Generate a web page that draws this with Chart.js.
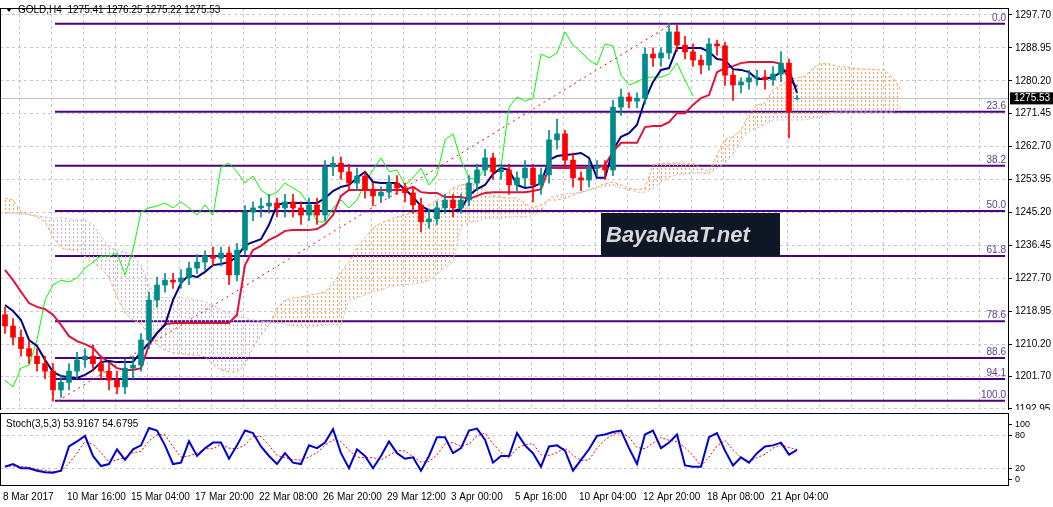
<!DOCTYPE html>
<html>
<head>
<meta charset="utf-8">
<script src="https://cdn.jsdelivr.net/npm/chart.js@4"></script>
<style>
  body { margin: 0; background: #fff; width: 1053px; height: 507px; overflow: hidden; font-family: "Liberation Sans", sans-serif; }
  #main { position: absolute; left: 0; top: 0; width: 1053px; height: 410px; }
  #stoch { position: absolute; left: 0; top: 410px; width: 1053px; height: 97px; }
</style>
</head>
<body>
<div id="main"><canvas id="priceChart"></canvas></div>
<div id="stoch"><canvas id="stochChart"></canvas></div>
<script>
// GOLD H4 candles
const opens = [1218.0,1215.0,1212.0,1209.0,1207.0,1205.0,1203.0,1198.0,1200.0,1203.0,
  1206.0,1207.0,1205.0,1203.0,1200.6,1198.8,1203.8,1204.6,1211.3,1221.9,
  1225.9,1227.2,1226.7,1227.8,1230.4,1232.0,1233.6,1233.0,1234.4,1228.6,
  1235.2,1245.3,1246.4,1246.9,1247.7,1246.4,1248.0,1246.4,1244.5,1247.2,
  1244.5,1257.3,1258.3,1256.0,1253.0,1254.9,1251.2,1249.6,1250.6,1253.0,
  1251.7,1250.4,1247.2,1242.7,1243.5,1246.4,1248.5,1246.4,1248.5,1253.0,
  1256.5,1259.7,1256.0,1256.5,1252.5,1254.4,1257.0,1252.5,1255.2,1264.5,
  1266.1,1259.1,1254.4,1253.8,1257.0,1257.3,1256.5,1273.2,1275.9,1274.8,
  1275.6,1287.3,1286.3,1287.6,1293.2,1289.7,1287.9,1285.7,1284.4,1290.0,
  1289.5,1281.7,1279.1,1279.9,1281.0,1281.2,1280.5,1282.0,1284.9,1275.41];
const highs = [1220,1217,1214,1211,1209,1207,1205,1202,1205,1208,
  1209,1210,1207,1205,1203,1206,1207,1213,1224,1228,
  1229,1229,1230,1232,1234,1235,1236,1236,1236,1237,
  1247,1248,1249,1250,1249,1250,1250,1248,1249,1249,
  1259,1260,1260,1258,1257,1256,1253,1252,1255,1255,
  1253,1252,1249,1246,1248,1250,1250,1250,1255,1258,
  1262,1261,1258,1258,1256,1259,1258,1257,1267,1270,
  1267,1261,1256,1259,1259,1259,1275,1278,1277,1277,
  1289,1289,1289,1295.5,1295,1292,1290,1287,1291.5,1291,
  1290.5,1283,1281,1283,1283,1283,1284,1288,1286,1276.25];
const lows = [1213,1210,1207,1205,1203,1201,1195,1196,1198,1201,
  1204,1203,1201,1198,1197,1197,1201,1203,1209,1220,
  1224,1225,1225,1226,1229,1230,1231,1231,1226,1227,
  1234,1243,1244,1245,1244,1244,1244,1242,1243,1242,
  1243,1255,1254,1251,1251,1249,1247,1248,1249,1250,
  1248,1245,1240,1241,1242,1245,1244,1245,1247,1251,
  1255,1254,1254,1250,1251,1252,1248,1250,1253,1262,
  1257,1252,1251,1252,1255,1254,1255,1271,1273,1273,
  1274,1284,1284,1286,1288,1286,1284,1282,1283,1287,
  1279,1275,1277,1278,1279,1278,1279,1280,1265,1275.22];
const closes = [1215.0,1212.0,1209.0,1207.0,1205.0,1203.0,1198.0,1200.0,1203.0,1206.0,
  1207.0,1205.0,1203.0,1200.6,1198.8,1203.8,1204.6,1211.3,1221.9,1225.9,
  1227.2,1226.7,1227.8,1230.4,1232.0,1233.6,1233.0,1234.4,1228.6,1235.2,
  1245.3,1246.4,1246.9,1247.7,1246.4,1248.0,1246.4,1244.5,1247.2,1244.5,
  1257.3,1258.3,1256.0,1253.0,1254.9,1251.2,1249.6,1250.6,1253.0,1251.7,
  1250.4,1247.2,1242.7,1243.5,1246.4,1248.5,1246.4,1248.5,1253.0,1256.5,
  1259.7,1256.0,1256.5,1252.5,1254.4,1257.0,1252.5,1255.2,1264.5,1266.1,
  1259.1,1254.4,1253.8,1257.0,1257.3,1256.5,1273.2,1275.9,1274.8,1275.6,
  1287.3,1286.3,1287.6,1293.2,1289.7,1287.9,1285.7,1284.4,1290.0,1289.5,
  1281.7,1279.1,1279.9,1281.0,1281.2,1280.5,1282.0,1284.9,1272.0,1275.53];

// Ichimoku lines
const tenkan = [1220.6,1219.0,1216.6,1211.3,1209.7,1206.0,1202.8,1201.7,1201.4,1201.2,
  1202.0,1203.3,1205.4,1205.7,1205.4,1205.4,1205.4,1208.1,1210.5,1213.1,
  1215.3,1221.9,1226.4,1228.6,1228.0,1229.4,1231.2,1231.5,1232.0,1233.4,
  1236.5,1237.3,1238.1,1241.9,1247.2,1247.7,1247.7,1247.7,1247.7,1247.7,
  1249.0,1250.9,1252.0,1252.5,1254.4,1256.0,1253.3,1253.0,1253.0,1253.0,
  1251.4,1249.3,1246.9,1245.8,1245.6,1245.6,1245.6,1246.1,1249.8,1251.4,
  1252.5,1255.4,1257.0,1256.5,1252.5,1251.7,1252.0,1253.0,1259.1,1260.2,
  1260.5,1260.7,1261.0,1259.7,1254.4,1254.4,1261.8,1265.3,1266.3,1268.5,
  1275.1,1279.9,1283.1,1283.6,1288.9,1288.9,1288.9,1288.9,1287.9,1286.0,
  1285.7,1283.3,1283.1,1282.5,1280.7,1280.7,1281.2,1282.5,1283.1,1277.0];
const kijun = [1229.9,1227.2,1224.1,1221.1,1220.1,1219.5,1218.0,1215.3,1212.3,1211.0,
  1210.2,1209.2,1206.8,1205.4,1203.8,1203.3,1203.3,1203.8,1210.0,1213.1,
  1215.5,1215.8,1215.8,1215.8,1215.8,1215.8,1215.8,1215.8,1215.8,1218.0,
  1231.2,1235.2,1236.3,1237.9,1238.9,1240.3,1240.5,1240.5,1240.5,1240.8,
  1242.1,1244.5,1249.6,1251.2,1251.2,1251.2,1251.2,1251.2,1251.2,1251.2,
  1251.2,1252.0,1250.6,1250.4,1250.4,1249.3,1249.3,1249.3,1248.8,1249.6,
  1250.4,1250.6,1250.6,1250.6,1250.6,1250.6,1250.9,1251.4,1257.0,1257.0,
  1257.0,1257.0,1257.0,1257.0,1257.0,1257.8,1261.3,1263.7,1263.7,1263.7,
  1267.9,1268.2,1268.2,1269.2,1271.6,1271.6,1273.8,1275.6,1276.4,1282.5,
  1283.6,1284.1,1284.9,1285.2,1285.2,1285.2,1285.2,1284.7,1280.4,1278.6];
const chikou = [1200.6,1198.8,1203.8,1204.6,1211.3,1221.9,1225.9,1227.2,1226.7,1227.8,
  1230.4,1232.0,1233.6,1233.6,1234.4,1228.6,1235.2,1245.3,1246.4,1246.9,
  1247.7,1246.4,1248.0,1246.4,1244.5,1247.2,1244.5,1257.3,1258.3,1256.0,
  1253.0,1254.9,1251.2,1249.6,1250.6,1253.0,1251.7,1250.4,1247.2,1242.7,
  1242.7,1246.4,1248.5,1246.4,1248.5,1253.0,1256.5,1259.7,1256.0,1256.5,
  1252.5,1254.4,1257.0,1252.5,1255.2,1264.5,1266.1,1259.1,1254.4,1253.8,
  1257.0,1257.3,1257.3,1273.2,1275.9,1274.8,1275.6,1287.3,1286.3,1287.6,
  1293.2,1289.7,1287.9,1285.7,1284.4,1290.0,1289.5,1281.7,1279.1,1279.9,
  1281.0,1281.2,1281.2,1282.0,1284.9,1280.4,1276.2];
const spanA = [1249.0,1248.5,1245.3,1244.8,1244.0,1242.7,1238.7,1235.8,1235.2,1235.2,
  1233.4,1232.0,1230.4,1228.0,1222.7,1218.5,1216.6,1215.5,1212.6,1210.0,
  1208.6,1207.8,1207.6,1207.3,1207.3,1206.8,1204.9,1203.3,1202.8,1202.8,
  1204.6,1209.2,1212.6,1215.3,1219.8,1221.9,1222.5,1222.7,1223.3,1223.5,
  1224.1,1226.4,1229.4,1232.0,1236.0,1238.4,1241.1,1242.4,1243.2,1244.0,
  1244.5,1245.3,1245.3,1247.2,1248.5,1249.8,1251.7,1252.5,1253.0,1252.5,
  1251.2,1249.6,1249.3,1249.0,1249.0,1247.5,1246.4,1247.2,1248.5,1248.5,
  1249.0,1249.8,1250.6,1251.2,1252.0,1252.8,1253.3,1252.5,1251.7,1251.2,
  1251.7,1257.8,1258.3,1258.3,1258.3,1258.3,1258.3,1257.0,1256.0,1260.5,
  1264.5,1265.3,1267.1,1271.1,1273.8,1274.3,1277.8,1279.1,1280.4,1281.0,
  1281.5,1283.6,1284.9,1284.7,1284.1,1283.9,1283.6,1283.3,1283.3,1283.1,
  1283.1,1281.0,1277.8];
const spanB = [1245.0,1245.0,1244.8,1244.5,1244.3,1244.0,1243.7,1243.7,1243.5,1243.2,
  1243.2,1241.9,1238.9,1236.0,1235.2,1234.7,1233.9,1231.2,1225.9,1222.7,
  1222.5,1222.5,1222.5,1222.2,1221.9,1221.4,1220.6,1219.3,1218.5,1217.9,
  1217.1,1216.6,1216.3,1216.1,1215.8,1215.5,1215.0,1214.7,1214.7,1215.0,
  1215.3,1215.3,1215.5,1221.9,1222.5,1223.3,1224.1,1224.6,1225.4,1225.7,
  1225.9,1226.2,1226.4,1227.2,1228.6,1230.4,1232.0,1241.6,1242.4,1242.9,
  1243.5,1243.7,1243.7,1244.0,1244.0,1244.0,1244.3,1245.3,1249.0,1249.8,
  1250.1,1250.4,1250.4,1251.2,1251.7,1252.2,1252.5,1251.7,1251.2,1250.6,
  1250.6,1251.7,1253.3,1254.6,1255.2,1255.4,1255.7,1255.7,1255.4,1257.0,
  1258.3,1260.5,1264.5,1266.6,1267.7,1268.7,1269.8,1269.8,1269.8,1269.8,
  1269.8,1270.3,1270.6,1271.6,1271.9,1271.9,1271.9,1271.9,1271.9,1271.9,
  1271.9,1271.9,1273.2];

// Fibonacci retracement
const fibNames = ["0.0", "23.6", "38.2", "50.0", "61.8", "78.6", "88.6", "94.1", "100.0"];
const fibLevels = [1295.4, 1272.0, 1257.6, 1245.6, 1233.6, 1216.3, 1206.5, 1200.9, 1195.1];
const trendLine = [{ x: 6.6, y: 1195.1 }, { x: 83.4, y: 1295.4 }];

// Stochastic (3,5,3)
const stochK = [23.8,28.6,21,21,16.6,14,12.8,16.6,60,69,
  79,43,25,28.6,55,36,55,62,93,88.6,
  62,28.6,31,69.4,43,57,67,67,38,62,
  88.6,84,60,43,28.6,48,31,28.6,62,57,
  67,91,48,21,55,43,21,43,69,48,
  38,40.6,16.6,43,76.6,76.6,48,57,88.6,92,
  72,31,43,43,84,62,48,23.8,60,62,
  52.6,16.6,36,55,79,81.4,86,88.6,57,28.6,
  81.4,88.6,57,67,81.4,26,23.8,23.8,76.6,84,
  52.6,26,40.6,31,48,60,62,67,45.4,53.9];
const stochD = [25,25,24,23,19,17,15,15,30,48,
  69,64,49,32,36,40,49,51,70,81,
  81,60,41,43,48,56,56,64,57,56,
  63,78,78,62,44,40,36,36,41,49,
  62,72,69,53,41,40,40,36,44,53,
  52,42,32,33,45,65,67,60,65,79,
  84,65,49,39,57,63,65,45,44,49,
  58,44,35,36,57,72,82,85,77,58,
  56,66,76,71,69,58,44,25,41,61,
  71,54,40,33,40,46,57,63,58,54.7];

const priceTicks = [1297.70, 1288.95, 1280.20, 1271.45, 1262.70, 1253.95, 1245.20, 1236.45, 1227.70, 1218.95, 1210.20, 1201.70, 1192.95];
const timeLabels = ["8 Mar 2017", "10 Mar 16:00", "15 Mar 04:00", "17 Mar 20:00", "22 Mar 08:00", "26 Mar 20:00", "29 Mar 12:00", "3 Apr 00:00", "5 Apr 16:00", "10 Apr 04:00", "12 Apr 20:00", "18 Apr 08:00", "21 Apr 04:00"];
const lastPrice = 1275.53;

const FONT = "Liberation Sans";
const pts = arr => arr.map((v, i) => ({ x: i, y: v }));

function hatch(color) {
  const c = document.createElement("canvas");
  c.width = 4; c.height = 4;
  const g = c.getContext("2d");
  g.fillStyle = color;
  g.fillRect(1, 0, 1, 2);
  return g.createPattern(c, "repeat");
}

const bull = "#008b8b", bear = "#ff0000";
const candleColors = closes.map((c, i) => c >= opens[i] ? bull : bear);

// drop the half-label overflow padding so the plot area is exactly where we want it
const noPad = s => { s.paddingTop = 0; s.paddingBottom = 0; s.paddingLeft = 0; s.paddingRight = 0; };

const xGrid = {
  type: "linear", min: -0.625, max: 125.375, offset: false,
  grid: { color: "#c8c8c8", tickLength: 0 }, border: { display: false, dash: [3, 3] },
  ticks: { display: false },
  afterBuildTicks: s => { const t = []; for (let v = 3.75; v < 126; v += 4) t.push({ value: v }); s.ticks = t; },
  afterFit: s => { s.height = 0; noPad(s); }
};

const framePlugin = {
  id: "frame",
  afterDraw(chart) {
    const { ctx, chartArea: a } = chart;
    ctx.save();
    ctx.strokeStyle = "#000"; ctx.lineWidth = 1;
    ctx.strokeRect(a.left + 0.5, a.top + 0.5, a.right - a.left, a.bottom - a.top);
    ctx.restore();
  }
};

const fibPlugin = {
  id: "fib",
  beforeDatasetsDraw(chart) {
    const { ctx, scales: { x, y } } = chart;
    const x0 = x.getPixelForValue(6.25), x1 = 1005;
    ctx.save();
    const py = Math.round(y.getPixelForValue(lastPrice)) + 0.5;
    ctx.strokeStyle = "#c0c0c0"; ctx.lineWidth = 1;
    ctx.beginPath(); ctx.moveTo(chart.chartArea.left, py); ctx.lineTo(chart.chartArea.right, py); ctx.stroke();
    ctx.strokeStyle = "#4b0082"; ctx.lineWidth = 2;
    ctx.font = "10px " + FONT; ctx.fillStyle = "#5a3c8c"; ctx.textAlign = "right";
    fibLevels.forEach((lv, k) => {
      const yy = y.getPixelForValue(lv);
      ctx.beginPath(); ctx.moveTo(x0, yy); ctx.lineTo(x1, yy); ctx.stroke();
      ctx.fillText(fibNames[k], 1006, yy - 3);
    });
    ctx.restore();
  },
  afterDraw(chart) {
    const { ctx, scales: { y } } = chart;
    ctx.save();
    const py = y.getPixelForValue(lastPrice);
    ctx.fillStyle = "#000"; ctx.fillRect(1010, py - 6, 43, 12);
    ctx.fillStyle = "#fff"; ctx.font = "10px " + FONT; ctx.textBaseline = "middle";
    ctx.fillText(lastPrice.toFixed(2), 1014, py);
    ctx.fillStyle = "#0d1726"; ctx.fillRect(601, 213, 179, 43);
    ctx.fillStyle = "#d8d8d8"; ctx.font = "italic bold 22px " + FONT;
    ctx.fillText("BayaNaaT.net", 606, 236);
    ctx.fillStyle = "#000"; ctx.font = "10px " + FONT; ctx.textBaseline = "alphabetic";
    ctx.beginPath(); ctx.moveTo(6, 8); ctx.lineTo(12, 8); ctx.lineTo(9, 12); ctx.fill();
    ctx.fillText("GOLD,H4  1275.41 1276.25 1275.22 1275.53", 18, 13);
    ctx.restore();
  }
};

new Chart(document.getElementById("priceChart"), {
  data: {
    datasets: [
      { type: "bar", data: opens.map((o, i) => ({ x: i, y: [o, closes[i]] })), backgroundColor: candleColors, barThickness: 5, grouped: false, order: 0 },
      { type: "bar", data: lows.map((l, i) => ({ x: i, y: [l, highs[i]] })), backgroundColor: candleColors, barThickness: 1, grouped: false, order: 1 },
      { type: "line", data: pts(tenkan), borderColor: "#000080", borderWidth: 2, pointRadius: 0, order: 2 },
      { type: "line", data: pts(kijun), borderColor: "#dc143c", borderWidth: 2, pointRadius: 0, order: 3 },
      { type: "line", data: pts(chikou), borderColor: "#00ff00", borderWidth: 1, pointRadius: 0, order: 4 },
      { type: "line", data: trendLine, borderColor: "#ff0000", borderWidth: 1, borderDash: [2, 4], pointRadius: 0, order: 5 },
      { type: "line", data: pts(spanA), borderColor: "#f4a460", borderWidth: 1, borderDash: [3, 2], pointRadius: 0, order: 6,
        fill: { target: "+1", above: hatch("#f4a460"), below: hatch("#c9b2c9") } },
      { type: "line", data: pts(spanB), borderColor: "#d8bfd8", borderWidth: 1, borderDash: [3, 2], pointRadius: 0, order: 7 }
    ]
  },
  options: {
    responsive: true, maintainAspectRatio: false, animation: false,
    layout: { padding: { top: 8, left: 0, right: 0, bottom: 0 } },
    plugins: { legend: { display: false }, tooltip: { enabled: false } },
    scales: {
      x: xGrid,
      y: {
        position: "right", min: 1192.67, max: 1299.56,
        grid: { color: "#c8c8c8", tickLength: 4, tickColor: "#000" },
        border: { color: "#000", dash: [3, 3] },
        afterBuildTicks: s => { s.ticks = priceTicks.map(v => ({ value: v })); },
        afterFit: s => { s.width = 45; noPad(s); },
        ticks: { color: "#000", font: { family: FONT, size: 10 }, padding: 3, callback: v => v.toFixed(2) }
      }
    }
  },
  plugins: [fibPlugin, framePlugin]
});

const stochTitle = {
  id: "stochTitle",
  afterDraw(chart) {
    const { ctx } = chart;
    ctx.save();
    ctx.fillStyle = "#000"; ctx.font = "10px " + FONT;
    ctx.fillText("Stoch(3,5,3) 53.9167 54.6795", 6, 17);
    ctx.restore();
  }
};

new Chart(document.getElementById("stochChart"), {
  data: {
    datasets: [
      { type: "line", data: pts(stochK), borderColor: "#0000cd", borderWidth: 2, pointRadius: 0 },
      { type: "line", data: pts(stochD), borderColor: "#ff0000", borderWidth: 1, borderDash: [2, 2], pointRadius: 0 }
    ]
  },
  options: {
    responsive: true, maintainAspectRatio: false, animation: false,
    layout: { padding: { top: 3, left: 0, right: 0, bottom: 0 } },
    plugins: { legend: { display: false }, tooltip: { enabled: false } },
    scales: {
      x: {
        type: "linear", min: -0.625, max: 125.375, offset: false,
        grid: { display: false, drawTicks: true, tickLength: 4 },
        border: { color: "#000" },
        afterBuildTicks: s => { s.ticks = timeLabels.map((t, k) => ({ value: -0.25 + 8 * k })); },
        afterFit: s => { s.height = 22; noPad(s); },
        ticks: { color: "#000", align: "start", maxRotation: 0, autoSkip: false, font: { family: FONT, size: 10 }, padding: 2,
          callback: (v, k) => timeLabels[k] }
      },
      y: {
        position: "right", min: -9, max: 120,
        grid: { color: ctx => (ctx.tick.value === 20 || ctx.tick.value === 80) ? "#c8c8c8" : "rgba(0,0,0,0)", tickLength: 4, tickColor: "#000" },
        border: { color: "#000", dash: [3, 3] },
        afterBuildTicks: s => { s.ticks = [0, 20, 80, 100].map(v => ({ value: v })); },
        afterFit: s => { s.width = 45; noPad(s); },
        ticks: { color: "#000", font: { family: FONT, size: 9 }, padding: 3 }
      }
    }
  },
  plugins: [framePlugin, stochTitle]
});
</script>
</body>
</html>
